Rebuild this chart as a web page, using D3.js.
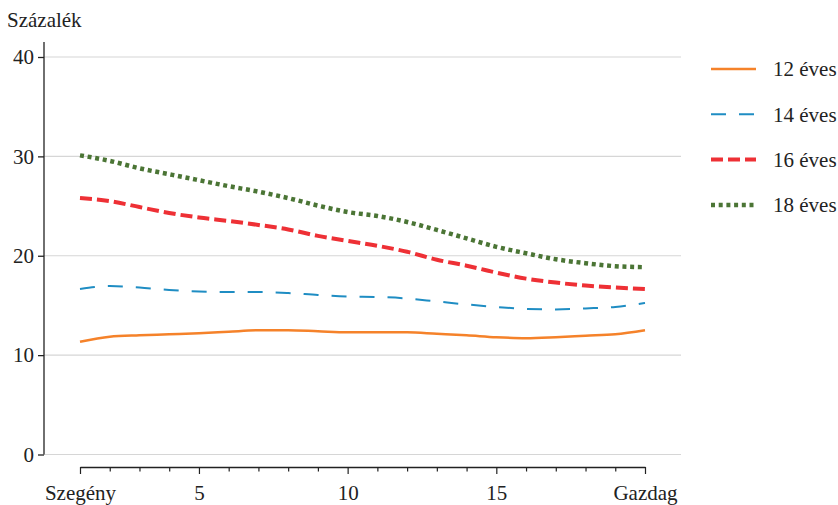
<!DOCTYPE html>
<html><head><meta charset="utf-8">
<script src="https://cdn.jsdelivr.net/npm/d3@7"></script>
<style>body{margin:0;background:#fff}svg{display:block}</style>
</head><body><svg id="c" width="838" height="505"></svg>
<script>
const xValues = d3.range(1, 21);
const xTickValues = [1, 5, 10, 15, 20];
const xTickLabels = {1: "Szegény", 5: "5", 10: "10", 15: "15", 20: "Gazdag"};
const yTicks = [0, 10, 20, 30, 40];
const seriesNames = ["12 éves", "14 éves", "16 éves", "18 éves"];
const s12 = [11.35, 11.85, 12.0, 12.1, 12.2, 12.35, 12.5, 12.5, 12.4, 12.3, 12.3, 12.3, 12.15, 12.0, 11.8, 11.7, 11.8, 11.95, 12.1, 12.5];
const s14 = [16.65, 16.95, 16.8, 16.55, 16.4, 16.35, 16.35, 16.25, 16.05, 15.9, 15.85, 15.7, 15.4, 15.1, 14.85, 14.65, 14.6, 14.7, 14.85, 15.25];
const s16 = [25.8, 25.5, 24.9, 24.3, 23.85, 23.5, 23.1, 22.65, 22.0, 21.5, 21.0, 20.4, 19.6, 19.0, 18.3, 17.7, 17.3, 17.0, 16.8, 16.65];
const s18 = [30.1, 29.55, 28.8, 28.2, 27.6, 27.0, 26.45, 25.8, 25.05, 24.4, 24.0, 23.4, 22.6, 21.75, 20.9, 20.25, 19.65, 19.25, 18.95, 18.85];
const allSeries = [s12, s14, s16, s18];
const styles = [
  {color: "#f5822a", width: 2.5, dash: null},
  {color: "#1f8dc3", width: 2, dash: "15,13"},
  {color: "#ee3035", width: 4, dash: "12,5"},
  {color: "#4b7535", width: 4.5, dash: "4,3.7"}
];
const FONT = '"Liberation Serif","Times New Roman","DejaVu Serif",serif';
const FS = 21;

const svg = d3.select("#c");
const x = d3.scaleLinear().domain([1, 20]).range([80, 645]);
const y = d3.scaleLinear().domain([0, 40]).range([454.5, 57]);

// gridlines
svg.append("g").selectAll("line").data(yTicks).join("line")
  .attr("x1", 44).attr("x2", 681)
  .attr("y1", d => y(d)).attr("y2", d => y(d))
  .attr("stroke", "#d6d6d6").attr("stroke-width", 1.2);

// y axis
const yAxis = svg.append("g").attr("transform", "translate(44,0)")
  .call(d3.axisLeft(y).tickValues(yTicks).tickSize(6).tickPadding(4));
yAxis.attr("font-family", FONT).attr("font-size", FS);
yAxis.select(".domain").attr("d", `M0,${y(41.5)}V${y(0)}`).attr("stroke", "#222").attr("stroke-width", 1.3);
yAxis.selectAll(".tick line").attr("stroke", "#222").attr("stroke-width", 1.3);
yAxis.selectAll("text").attr("fill", "#222");

// x axis
const xAxis = svg.append("g").attr("transform", "translate(0,467)")
  .call(d3.axisBottom(x).tickValues(xValues).tickSize(5).tickSizeOuter(0)
    .tickFormat(d => xTickLabels[d] || "").tickPadding(13));
xAxis.attr("font-family", FONT).attr("font-size", FS);
xAxis.select(".domain").attr("stroke", "#222").attr("stroke-width", 1.3);
xAxis.selectAll(".tick line").attr("stroke", "#222").attr("stroke-width", 1.2)
  .attr("y2", d => xTickValues.includes(d) ? 7 : 4.5);
xAxis.selectAll("text").attr("fill", "#222");

// y title
svg.append("text").attr("x", 7).attr("y", 27).attr("font-family", FONT).attr("font-size", FS).attr("fill", "#222").text("Százalék");

// lines
const line = d3.line().x((d, i) => x(xValues[i])).y(d => y(d)).curve(d3.curveMonotoneX);
allSeries.forEach((s, k) => {
  svg.append("path").datum(s).attr("d", line).attr("fill", "none")
    .attr("stroke", styles[k].color).attr("stroke-width", styles[k].width)
    .attr("stroke-dasharray", styles[k].dash);
});

// legend
const lg = svg.append("g");
seriesNames.forEach((name, k) => {
  const yy = 69 + k * 45.3;
  lg.append("line").attr("x1", 711).attr("x2", 756).attr("y1", yy).attr("y2", yy)
    .attr("stroke", styles[k].color).attr("stroke-width", styles[k].width)
    .attr("stroke-dasharray", styles[k].dash);
  lg.append("text").attr("x", 773).attr("y", yy).attr("dy", "0.35em")
    .attr("font-family", FONT).attr("font-size", FS).attr("fill", "#222").text(name);
});
</script></body></html>
